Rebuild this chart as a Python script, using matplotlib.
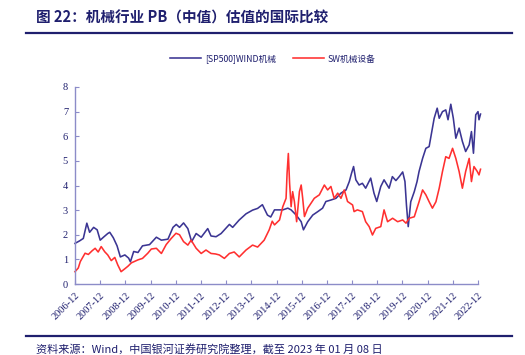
import numpy as np
import matplotlib.pyplot as plt
from matplotlib.lines import Line2D

# PB (median) of machinery sector (x in fractional years)
wind_t = [2006.92, 2007.10, 2007.25, 2007.39, 2007.50, 2007.66, 2007.80, 2007.92, 2008.05, 2008.22,
          2008.30, 2008.44, 2008.59, 2008.72, 2008.90, 2009.05, 2009.12, 2009.25, 2009.42, 2009.60,
          2009.88, 2010.15, 2010.35, 2010.61, 2010.81, 2010.94, 2011.07, 2011.23, 2011.40, 2011.55,
          2011.73, 2011.93, 2012.19, 2012.32, 2012.52, 2012.72, 2013.05, 2013.18, 2013.44, 2013.71,
          2013.97, 2014.17, 2014.36, 2014.56, 2014.69, 2014.84, 2015.17, 2015.37, 2015.50, 2015.70,
          2015.90, 2015.99, 2016.16, 2016.36, 2016.56, 2016.75, 2016.88, 2017.08, 2017.28, 2017.48,
          2017.68, 2017.81, 2017.90, 2017.98, 2018.07, 2018.20, 2018.33, 2018.46, 2018.66, 2018.79,
          2018.90, 2019.06, 2019.19, 2019.39, 2019.52, 2019.66, 2019.80, 2019.93, 2020.02, 2020.08,
          2020.15, 2020.25, 2020.39, 2020.50, 2020.58, 2020.72, 2020.85, 2020.98, 2021.11, 2021.18,
          2021.30, 2021.38, 2021.51, 2021.64, 2021.73, 2021.84, 2021.94, 2022.04, 2022.17, 2022.30,
          2022.43, 2022.57, 2022.66, 2022.74, 2022.83, 2022.92, 2022.96, 2023.02]
wind_pb = [1.65, 1.75, 1.85, 2.47, 2.10, 2.30, 2.20, 1.78, 1.90, 2.05,
           2.10, 1.88, 1.55, 1.10, 1.18, 1.05, 0.90, 1.32, 1.28, 1.55,
           1.60, 1.90, 1.78, 1.82, 2.30, 2.42, 2.30, 2.48, 2.25, 1.72,
           2.05, 1.90, 2.25, 1.95, 1.92, 2.05, 2.42, 2.30, 2.60, 2.85,
           3.00, 3.07, 3.22, 2.80, 2.72, 3.01, 3.01, 3.08, 3.01, 2.80,
           2.53, 2.20, 2.53, 2.80, 2.94, 3.08, 3.35, 3.41, 3.48, 3.69,
           3.82, 4.16, 4.50, 4.77, 4.23, 4.02, 4.09, 3.89, 4.30, 3.69,
           3.35, 3.96, 4.23, 3.89, 4.36, 4.20, 4.37, 4.55, 4.16, 3.20,
           2.33, 3.34, 3.75, 4.16, 4.57, 5.10, 5.51, 5.58, 6.33, 6.73,
           7.14, 6.73, 7.00, 7.07, 6.67, 7.30, 6.73, 5.92, 6.33, 5.79,
           5.38, 5.65, 6.19, 5.31, 6.87, 7.00, 6.67, 6.90]

sw_t = [2006.92, 2007.05, 2007.13, 2007.32, 2007.45, 2007.60, 2007.72, 2007.84, 2007.96, 2008.10,
        2008.22, 2008.36, 2008.50, 2008.62, 2008.75, 2008.90, 2009.02, 2009.16, 2009.42, 2009.60,
        2009.81, 2009.95, 2010.15, 2010.35, 2010.54, 2010.74, 2010.93, 2011.07, 2011.23, 2011.40,
        2011.53, 2011.73, 2011.93, 2012.12, 2012.32, 2012.50, 2012.65, 2012.85, 2013.05, 2013.24,
        2013.44, 2013.71, 2013.97, 2014.17, 2014.43, 2014.63, 2014.75, 2014.84, 2015.04, 2015.17,
        2015.30, 2015.34, 2015.39, 2015.44, 2015.50, 2015.56, 2015.63, 2015.72, 2015.83, 2015.90,
        2015.96, 2016.03, 2016.16, 2016.29, 2016.42, 2016.62, 2016.82, 2016.95, 2017.08, 2017.21,
        2017.35, 2017.48, 2017.61, 2017.74, 2017.94, 2018.00, 2018.13, 2018.33, 2018.46, 2018.60,
        2018.73, 2018.86, 2019.06, 2019.19, 2019.33, 2019.53, 2019.73, 2019.93, 2020.06, 2020.19,
        2020.39, 2020.58, 2020.72, 2020.85, 2020.98, 2021.11, 2021.25, 2021.38, 2021.51, 2021.64,
        2021.77, 2021.91, 2022.04, 2022.17, 2022.30, 2022.43, 2022.57, 2022.66, 2022.76, 2022.89,
        2022.96, 2023.02]
sw_pb = [0.50, 0.65, 0.91, 1.25, 1.20, 1.35, 1.45, 1.30, 1.52, 1.31,
         1.18, 0.95, 1.08, 0.77, 0.50, 0.62, 0.72, 0.86, 0.98, 1.04,
         1.25, 1.42, 1.45, 1.24, 1.60, 1.85, 2.06, 2.00, 1.72, 1.58,
         1.78, 1.45, 1.24, 1.38, 1.24, 1.22, 1.18, 1.04, 1.24, 1.30,
         1.10, 1.38, 1.58, 1.50, 1.78, 2.20, 2.55, 2.40, 2.60, 3.14,
         3.48, 4.50, 5.30, 4.09, 3.14, 3.75, 3.35, 2.53, 3.75, 4.02,
         3.48, 2.74, 3.08, 3.28, 3.48, 3.62, 4.02, 3.82, 3.96, 3.48,
         3.69, 3.48, 3.82, 3.35, 3.21, 2.94, 3.01, 2.94, 2.53, 2.33,
         1.99, 2.26, 2.33, 3.01, 2.53, 2.67, 2.53, 2.60, 2.47, 2.67,
         2.73, 3.34, 3.82, 3.62, 3.34, 3.08, 3.34, 3.89, 4.57, 5.17,
         5.10, 5.51, 5.10, 4.57, 3.89, 4.57, 5.10, 4.16, 4.77, 4.57,
         4.43, 4.66]

tick_labels = ['2006-12', '2007-12', '2008-12', '2009-12', '2010-12', '2011-12', '2012-12', '2013-12',
               '2014-12', '2015-12', '2016-12', '2017-12', '2018-12', '2019-12', '2020-12', '2021-12',
               '2022-12']
tick_pos = [2006.92 + i for i in range(len(tick_labels))]

navy = '#1f1f6e'
axis_col = '#8c8cc8'
blue = '#3b3593'
red = '#ff3030'
cjk = ['Noto Sans CJK SC', 'DejaVu Sans']

W, H = 525, 355
fig = plt.figure(figsize=(W / 100, H / 100), dpi=100)

# title and rules
fig.text(36 / W, 1 - 18 / H, '图 22：机械行业 PB（中值）估值的国际比较', family=cjk,
         fontsize=10.5, fontweight='bold', color=navy, va='center', ha='left')
fig.add_artist(Line2D([26 / W, 512 / W], [1 - 33 / H, 1 - 33 / H], color=navy, lw=1.6))
fig.add_artist(Line2D([26 / W, 512 / W], [1 - 336 / H, 1 - 336 / H], color=navy, lw=1.6))
fig.text(36 / W, 1 - 350 / H, '资料来源：Wind，中国银河证券研究院整理，截至 2023 年 01 月 08 日',
         family=cjk, fontsize=8, color=navy, va='center', ha='left')

ax = fig.add_axes([75 / W, 1 - 284 / H, (478 - 75) / W, (284 - 87) / H])
ax.plot(wind_t, wind_pb, color=blue, lw=1.15, label='[SP500]WIND机械', clip_on=False)
ax.plot(sw_t, sw_pb, color=red, lw=1.15, label='SW机械设备', clip_on=False)

ax.set_xlim(tick_pos[0], tick_pos[-1])
ax.set_ylim(0, 8)
ax.set_yticks(range(0, 9))
ax.set_xticks(tick_pos)
ax.set_xticklabels(tick_labels, rotation=45, ha='right', rotation_mode='anchor')
for s in ['top', 'right']:
    ax.spines[s].set_visible(False)
for s in ['left', 'bottom']:
    ax.spines[s].set_color(axis_col)
    ax.spines[s].set_linewidth(1.0)
ax.tick_params(direction='in', length=3, color=axis_col, labelsize=7.5, labelcolor=navy, pad=5)
for lab in ax.get_xticklabels() + ax.get_yticklabels():
    lab.set_family('Liberation Serif')

leg = fig.legend(loc='center', bbox_to_anchor=(273 / W, 1 - 59 / H), ncol=2, frameon=False,
                 prop={'family': cjk, 'size': 6.3}, handlelength=3.5, columnspacing=2.0,
                 handletextpad=0.45)
for t in leg.get_texts():
    t.set_color(navy)

fig.savefig('out.png', dpi=100)
